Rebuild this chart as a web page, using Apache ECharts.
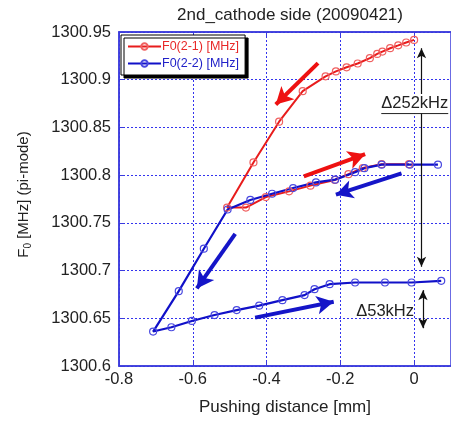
<!DOCTYPE html>
<html><head><meta charset="utf-8">
<script src="https://cdn.jsdelivr.net/npm/echarts@6/dist/echarts.min.js"></script>
<style>html,body{margin:0;padding:0;background:#fff}#c{width:451px;height:421px}</style>
</head><body><div id="c"></div>
<script>
// F0(2-1): path starts top right, goes down-left, then returns to the right
const redX = [0.0, -0.0215, -0.043, -0.065, -0.086, -0.1, -0.12, -0.153, -0.183, -0.212, -0.24, -0.302, -0.366, -0.4355, -0.507, -0.456, -0.402, -0.339, -0.281, -0.215, -0.178, -0.139, -0.088, -0.014];
const redY = [1300.9417, 1300.939, 1300.936, 1300.933, 1300.9295, 1300.927, 1300.9226, 1300.917, 1300.913, 1300.9087, 1300.9035, 1300.888, 1300.856, 1300.8133, 1300.766, 1300.766, 1300.777, 1300.783, 1300.789, 1300.795, 1300.801, 1300.8075, 1300.8115, 1300.8115];
// F0(2-2): path starts upper right, goes left, down to the minimum, then back right along the bottom
const blueX = [0.0646, -0.0116, -0.088, -0.1347, -0.160, -0.214, -0.266, -0.328, -0.385, -0.444, -0.5056, -0.570, -0.638, -0.7075, -0.658, -0.6025, -0.541, -0.481, -0.420, -0.357, -0.297, -0.270, -0.229, -0.160, -0.079, -0.007, 0.0735];
const blueY = [1300.811, 1300.811, 1300.811, 1300.8073, 1300.8031, 1300.7953, 1300.7924, 1300.7865, 1300.7805, 1300.774, 1300.764, 1300.7229, 1300.6784, 1300.6361, 1300.6406, 1300.6472, 1300.6534, 1300.6586, 1300.6632, 1300.669, 1300.6743, 1300.6805, 1300.6857, 1300.6875, 1300.6875, 1300.6875, 1300.6893];
const seriesNames = ['F0(2-1) [MHz]', 'F0(2-2) [MHz]'];
const titleText = '2nd_cathode side (20090421)';
const xName = 'Pushing distance [mm]';
// annotation arrows [x1, y1, x2(tip), y2(tip)] in data units
const redArrows = [[-0.2605, 1300.9174, -0.375, 1300.874], [-0.299, 1300.7986, -0.1328, 1300.8219]];
const blueArrows = [[-0.0342, 1300.8018, -0.212, 1300.7795], [-0.485, 1300.7385, -0.589, 1300.6813], [-0.431, 1300.6507, -0.218, 1300.6674]];
const deltaArrows = [[0.02, 1300.933, 0.02, 1300.704], [0.024, 1300.6795, 0.024, 1300.6396]];
const deltaLabels = [{ text: 'Δ252kHz', x: -0.089, y: 1300.875, underline: true }, { text: 'Δ53kHz', x: -0.157, y: 1300.657, underline: false }];

const FONT = 'Liberation Sans, Arial, sans-serif';
const AX = '#3b3bdc';
const pair = (xs, ys) => xs.map((x, i) => [x, ys[i]]);
const fmt = v => String(+(+v).toFixed(2));
const arrowLines = arr => arr.map(a => [{ coord: [a[0], a[1]] }, { coord: [a[2], a[3]] }]);

const chart = echarts.init(document.getElementById('c'), null, { renderer: 'canvas' });
chart.setOption({
  animation: false,
  backgroundColor: '#fff',
  title: { text: titleText, left: 285, top: 2, textAlign: 'center',
    textStyle: { fontFamily: FONT, fontSize: 17, fontWeight: 'normal', color: '#222' } },
  grid: { left: 119, top: 32, right: -2, bottom: 53, show: true, borderColor: AX, borderWidth: 1.5 },
  legend: {
    left: 121, top: 35, orient: 'vertical', itemWidth: 33, itemHeight: 8, itemGap: 4,
    padding: [5, 6, 5, 6], backgroundColor: '#fff', borderColor: '#000', borderWidth: 1,
    shadowColor: '#000', shadowOffsetX: 3, shadowOffsetY: 3, shadowBlur: 0,
    textStyle: { fontFamily: FONT, fontSize: 12.5, padding: [0, 0, 0, -4] },
    data: [{ name: seriesNames[0], textStyle: { color: '#e82828' } }, { name: seriesNames[1], textStyle: { color: '#2020c8' } }]
  },
  xAxis: [{
    type: 'value', min: -0.8, max: 0.1, interval: 0.2,
    name: xName, nameLocation: 'middle', nameGap: 33,
    nameTextStyle: { fontFamily: FONT, fontSize: 17, color: '#222' },
    axisLine: { onZero: false, lineStyle: { color: AX, width: 1.5 } },
    axisTick: { inside: true, length: 5, lineStyle: { color: AX } },
    axisLabel: { fontFamily: FONT, fontSize: 16.5, color: '#222', margin: 5, formatter: fmt, showMaxLabel: false },
    splitLine: { show: true, lineStyle: { color: '#3333ee', type: [2, 2], width: 1 } }
  }, {
    type: 'value', position: 'top', min: -0.8, max: 0.1, interval: 0.2,
    axisLine: { show: true, onZero: false, lineStyle: { color: AX, width: 1.5 } },
    axisTick: { inside: true, length: 5, lineStyle: { color: AX } },
    axisLabel: { show: false }, splitLine: { show: false }
  }],
  yAxis: {
    type: 'value', min: 1300.6, max: 1300.95, interval: 0.05,
    name: '{a|F}{s|0}{a| [MHz] (pi-mode)}', nameLocation: 'middle', nameGap: 86, nameRotate: 90,
    nameTextStyle: { fontFamily: FONT, fontSize: 15, color: '#222', padding: [0, 0, 0, 9],
      rich: { a: { fontFamily: FONT, fontSize: 15, color: '#222' }, s: { fontFamily: FONT, fontSize: 10, color: '#222', verticalAlign: 'bottom', padding: [8, 0, 0, 0] } } },
    axisLine: { show: true, onZero: false, lineStyle: { color: AX, width: 1.5 } },
    axisTick: { show: true, inside: true, length: 5, lineStyle: { color: AX } },
    axisLabel: { fontFamily: FONT, fontSize: 16.5, color: '#222', margin: 8, formatter: fmt },
    splitLine: { show: true, lineStyle: { color: '#3333ee', type: [2, 2], width: 1 } }
  },
  series: [{
    name: seriesNames[0], type: 'line', data: pair(redX, redY),
    symbol: 'circle', symbolSize: 7,
    lineStyle: { color: '#e81c1c', width: 2 },
    itemStyle: { color: 'rgba(255,255,255,0)', borderColor: '#f06060', borderWidth: 1.2 },
    markLine: { silent: true, symbol: ['none', 'arrow'], symbolSize: [14, 17], label: { show: false },
      lineStyle: { color: '#ee1111', width: 4, type: 'solid' }, data: arrowLines(redArrows) }
  }, {
    name: seriesNames[1], type: 'line', data: pair(blueX, blueY),
    symbol: 'circle', symbolSize: 7,
    lineStyle: { color: '#1010c8', width: 2.2 },
    itemStyle: { color: 'rgba(255,255,255,0)', borderColor: '#4848e0', borderWidth: 1.2 },
    markLine: { silent: true, symbol: ['none', 'arrow'], symbolSize: [14, 17], label: { show: false },
      lineStyle: { color: '#1515c8', width: 4, type: 'solid' }, data: arrowLines(blueArrows) }
  }, {
    name: 'delta', type: 'line', data: [], silent: true,
    markLine: { silent: true, symbol: ['arrow', 'arrow'], symbolSize: [7, 10], label: { show: false },
      lineStyle: { color: '#111', width: 1.2, type: 'solid' }, data: arrowLines(deltaArrows) }
  }]
});

// delta labels placed through the chart's own scales
const ctx = document.createElement('canvas').getContext('2d');
const LFS = 16.5;
ctx.font = LFS + 'px "Liberation Sans"';
const g = [];
deltaLabels.forEach(d => {
  const p = chart.convertToPixel({ xAxisIndex: 0, yAxisIndex: 0 }, [d.x, d.y]);
  g.push({ type: 'text', x: p[0], y: p[1], z: 100,
    style: { text: d.text, fontFamily: FONT, fontSize: LFS, fill: '#222', verticalAlign: 'middle', align: 'left',
      backgroundColor: d.underline ? '#fff' : 'transparent', padding: [1, 0, 1, 0] } });
  if (d.underline) {
    const w = ctx.measureText(d.text).width;
    g.push({ type: 'line', z: 101, shape: { x1: p[0], y1: p[1] + 10, x2: p[0] + w, y2: p[1] + 10 },
      style: { stroke: '#222', lineWidth: 1 } });
  }
});
chart.setOption({ graphic: g });
</script></body></html>
